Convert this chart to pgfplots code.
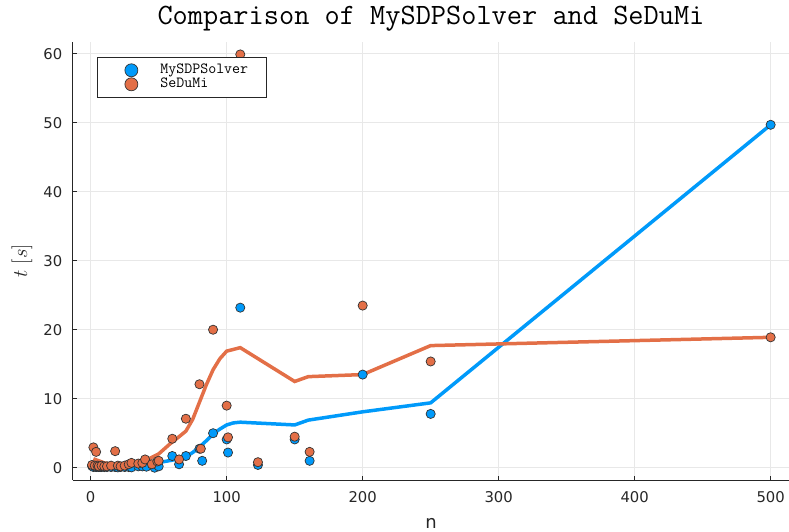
\documentclass[border=0pt]{standalone}
\usepackage[no-math]{fontspec}
\setmainfont{DejaVu Sans}
\usepackage{pgfplots}
\pgfplotsset{compat=1.18}
\definecolor{myblue}{RGB}{0,154,250}
\definecolor{myorange}{RGB}{227,111,71}
\begin{document}
\begin{tikzpicture}
\begin{axis}[
  at={(0,0)}, anchor=south west,
  scale only axis, width=716pt, height=438pt,
  xmin=-13, xmax=513.5, ymin=-1.78, ymax=61.7,
  axis x line*=bottom, axis y line*=left,
  axis line style={black!85, line width=1pt, -},
  xtick={0,100,...,500}, ytick={0,10,...,60},
  tick align=inside, major tick length=4pt,
  tick style={black!85, line width=0.8pt},
  grid=major, major grid style={black!9, line width=0.6pt},
  tick label style={font=\fontsize{14.8}{16}\selectfont, text=black!85},
  /pgf/number format/assume math mode=true,
  xticklabel style={inner sep=0pt, yshift=-11.5pt},
  yticklabel style={inner sep=0pt, xshift=-10.5pt},
  every axis title shift=0pt,
  title={Comparison of MySDPSolver and SeDuMi},
  title style={at={(axis description cs:0.5,1.0388)}, anchor=base, yshift=0pt, font=\ttfamily\fontsize{29.5}{30}\selectfont, inner sep=0pt},
  xlabel={n},
  xlabel style={at={(axis description cs:0.5,-0.1096)}, anchor=base, font=\fontsize{18}{20}\selectfont, inner sep=0pt, text=black!85},
  ylabel={$t\ [s]$},
  ylabel style={at={(axis description cs:-0.0712,0.5)}, anchor=center, font=\fontsize{20.5}{22}\selectfont, inner sep=0pt, text=black!85},
  legend cell align=left,
  legend style={at={(axis description cs:0.0335,0.966)}, anchor=north west, draw=black!85, line width=0.8pt, inner xsep=18pt, inner ysep=6pt, font=\ttfamily\fontsize{15.5}{15.5}\selectfont, nodes={inner sep=0pt, text height=10pt, text depth=4pt}, row sep=0pt, column sep=0pt},
  legend image code/.code={\path[draw=none,fill=none] (0pt,0pt) -- (45pt,0pt); \draw[#1, mark size=6.5pt] plot coordinates {(16pt,0pt)};},
]
\addplot[myblue, line width=3.5pt, forget plot] coordinates {
(2,0.3)(10,0.25)(20,0.2)(30,0.3)(40,0.45)(50,0.75)(60,1.1)(65,1.3)(70,1.6)(75,2.2)(80,3.0)(85,3.9)(90,4.9)(95,5.6)(100,6.2)(105,6.5)(110,6.6)(150,6.2)(160,6.9)(200,8.1)(250,9.4)(500,49.7)};
\addplot[myorange, line width=3.5pt, forget plot] coordinates {
(2,1.3)(10,0.7)(20,0.35)(26,0.3)(35,0.7)(43,1.3)(50,2.0)(58,3.4)(65,4.5)(70,5.3)(75,7.0)(80,9.5)(85,12.0)(90,14.2)(95,15.8)(100,16.9)(110,17.4)(150,12.5)(160,13.2)(200,13.5)(250,17.7)(500,18.9)};
\addplot[only marks, mark=*, mark size=4.6pt, mark options={draw=black!80, fill=myblue, line width=0.7pt}] coordinates {
(1,0.25)(2,0.1)(3,0.2)(4,0.1)(5,0.15)(6,0.1)(7,0.1)(8,0.1)(10,0.1)(12,0.1)(15,0.1)(18,0.1)(20,0.05)(22,0.1)(25,0.1)(28,0.1)(30,0.05)(35,0.2)(38,0.2)(41,0.15)(47,0.0)(49,0.4)(50,0.2)(60,1.7)(65,0.5)(70,1.7)(80,2.75)(82,1.0)(90,5.0)(100,4.1)(101,2.2)(110,23.2)(123,0.4)(150,4.1)(161,1.0)(200,13.5)(250,7.8)(500,49.7)};
\addlegendentry{MySDPSolver}
\addplot[only marks, mark=*, mark size=4.6pt, mark options={draw=black!80, fill=myorange, line width=0.7pt}] coordinates {
(1,0.4)(2,2.95)(3,0.3)(4,2.3)(5,0.3)(6,0.2)(8,0.3)(10,0.2)(12,0.2)(15,0.3)(18,2.4)(20,0.3)(22,0.2)(25,0.3)(28,0.5)(30,0.7)(35,0.6)(38,0.7)(40,1.2)(45,0.5)(49,0.9)(50,1.0)(60,4.2)(65,1.2)(70,7.1)(80,12.1)(81,2.75)(90,20.0)(100,9.0)(101,4.4)(110,59.9)(123,0.8)(150,4.5)(161,2.3)(200,23.5)(250,15.4)(500,18.9)};
\addlegendentry{SeDuMi}
\end{axis}
\pgfresetboundingbox
\path[use as bounding box] (-73pt,-51pt) rectangle (716pt,480pt);
\end{tikzpicture}
\end{document}
